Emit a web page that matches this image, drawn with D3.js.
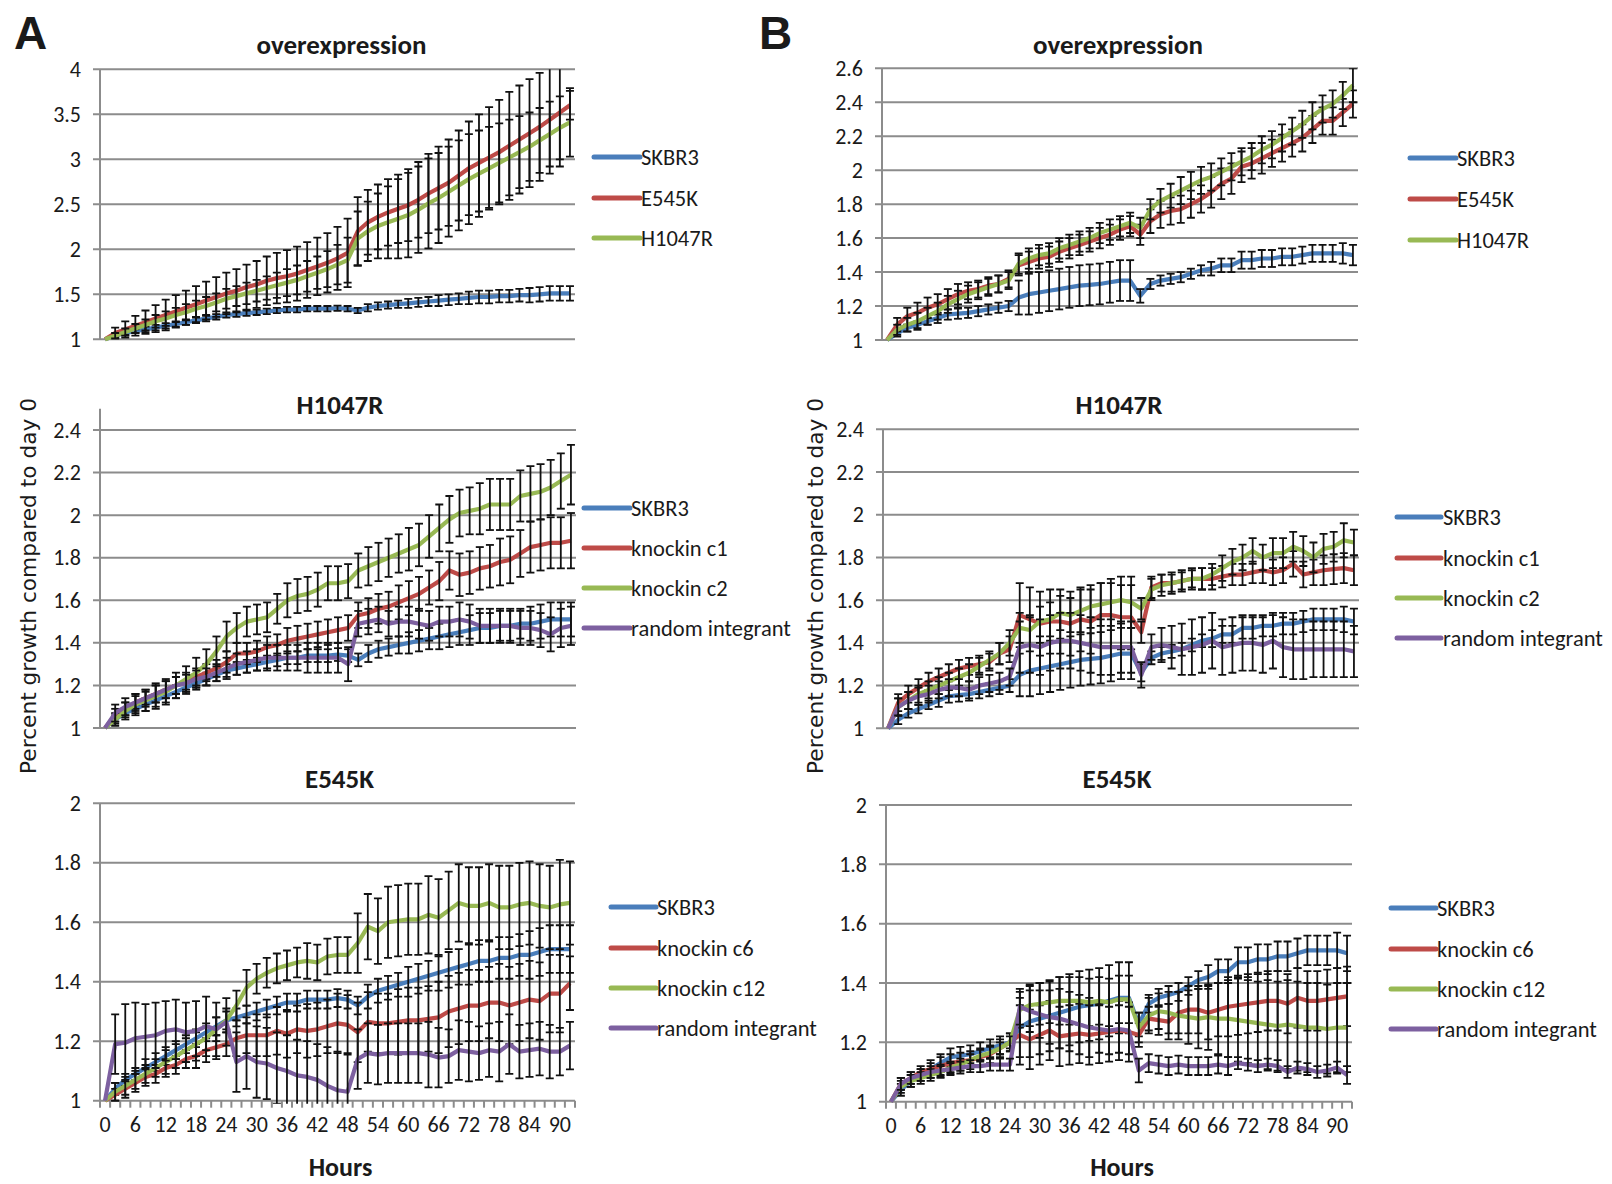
<!DOCTYPE html>
<html>
<head>
<meta charset="utf-8">
<script src="https://cdn.jsdelivr.net/npm/d3@7/dist/d3.min.js"></script>
<style>
  html, body { margin: 0; padding: 0; background: #fff; }
  svg text { font-family: Carlito, Lato, "Open Sans", sans-serif; fill: #1a1a1a; }
</style>
</head>
<body>
<svg id="fig" width="1612" height="1184"></svg>
<script>
// ---- time axis (hours after seeding) ----
const hours = [0,2,4,6,8,10,12,14,16,18,20,22,24,26,28,30,32,34,36,38,40,42,44,46,
               48,50,52,54,56,58,60,62,64,66,68,70,72,74,76,78,80,82,84,86,88,90,92];
const hourTickLabels = [0,6,12,18,24,30,36,42,48,54,60,66,72,78,84,90];

// ---- y tick values ----
const ticksOverA = [1,1.5,2,2.5,3,3.5,4];
const ticksOverB = [1,1.2,1.4,1.6,1.8,2,2.2,2.4,2.6];
const ticksH1047R = [1,1.2,1.4,1.6,1.8,2,2.2,2.4];
const ticksE545K = [1,1.2,1.4,1.6,1.8,2];

// ---- series names ----
const namesOver = ["SKBR3","E545K","H1047R"];
const namesH1047R = ["SKBR3","knockin c1","knockin c2","random integrant"];
const namesE545K = ["SKBR3","knockin c6","knockin c12","random integrant"];

// ---- parental SKBR3 control ----
const skbr3A = [1.00,1.04,1.07,1.09,1.11,1.13,1.15,1.17,1.19,1.21,1.23,1.25,1.27,1.28,1.29,1.30,1.31,1.32,1.33,1.33,1.34,1.34,1.34,1.345,
                1.34,1.32,1.35,1.37,1.38,1.39,1.40,1.41,1.42,1.43,1.44,1.45,1.46,1.47,1.47,1.48,1.48,1.49,1.49,1.50,1.51,1.51,1.51];
const skbr3AErr = [0,.02,.02,.02,.03,.03,.03,.03,.03,.03,.03,.03,.03,.03,.03,.03,.03,.03,.03,.03,.03,.03,.03,.03,
                   .03,.03,.04,.04,.04,.04,.05,.05,.05,.06,.06,.06,.07,.07,.07,.07,.07,.07,.08,.08,.08,.08,.08];
const skbr3B = [1.00,1.04,1.07,1.09,1.11,1.13,1.15,1.155,1.16,1.17,1.18,1.19,1.20,1.25,1.27,1.28,1.29,1.30,1.31,1.32,1.325,1.33,1.34,1.35,
                1.35,1.26,1.33,1.35,1.36,1.37,1.39,1.41,1.42,1.44,1.44,1.47,1.47,1.48,1.48,1.49,1.49,1.50,1.51,1.51,1.51,1.51,1.50];
const skbr3BErr = [0,.02,.02,.02,.02,.03,.03,.03,.03,.03,.03,.03,.03,.10,.12,.12,.12,.12,.12,.12,.12,.12,.12,.12,
                   .12,.04,.03,.03,.03,.03,.03,.03,.04,.04,.04,.05,.05,.05,.05,.05,.05,.05,.05,.05,.05,.06,.06];

// ---- A: overexpression ----
const overA_E545K = [1.00,1.07,1.11,1.15,1.19,1.23,1.27,1.31,1.35,1.39,1.43,1.47,1.51,1.54,1.58,1.61,1.65,1.68,1.70,1.73,1.77,1.81,1.85,1.90,
                     1.96,2.20,2.30,2.36,2.41,2.45,2.49,2.55,2.62,2.68,2.74,2.82,2.90,2.96,3.02,3.08,3.15,3.22,3.29,3.36,3.44,3.52,3.60];
const overA_E545KErr = [0,.06,.09,.11,.13,.15,.17,.18,.19,.20,.21,.22,.23,.24,.25,.26,.27,.28,.29,.30,.31,.32,.33,.35,
                        .38,.38,.36,.36,.37,.38,.40,.42,.44,.46,.48,.50,.52,.54,.56,.58,.60,.60,.60,.60,.60,.60,.16];
const overA_H1047R = [1.00,1.04,1.08,1.12,1.16,1.20,1.23,1.27,1.30,1.34,1.37,1.41,1.45,1.48,1.51,1.54,1.57,1.60,1.63,1.66,1.70,1.74,1.78,1.83,
                      1.88,2.12,2.20,2.26,2.30,2.34,2.38,2.44,2.51,2.57,2.64,2.71,2.78,2.84,2.90,2.96,3.02,3.08,3.14,3.21,3.28,3.35,3.41];
const overA_H1047RErr = [0,.03,.04,.05,.06,.07,.08,.08,.09,.09,.10,.10,.11,.11,.12,.12,.13,.14,.15,.16,.17,.18,.20,.22,
                         .25,.30,.33,.36,.40,.44,.47,.48,.50,.50,.50,.50,.50,.48,.46,.44,.42,.40,.38,.36,.36,.35,.38];

// ---- A: H1047R knock-in ----
const hA_c1 = [1.00,1.06,1.09,1.12,1.14,1.16,1.18,1.20,1.22,1.24,1.26,1.28,1.31,1.35,1.35,1.36,1.38,1.39,1.41,1.42,1.43,1.44,1.45,1.46,
               1.47,1.53,1.54,1.56,1.57,1.59,1.61,1.63,1.66,1.69,1.74,1.72,1.73,1.75,1.76,1.78,1.79,1.82,1.85,1.86,1.87,1.87,1.88];
const hA_c1Err = [0,.03,.03,.03,.03,.04,.04,.04,.04,.04,.04,.04,.05,.05,.05,.05,.05,.05,.06,.06,.06,.06,.06,.06,
                  .06,.06,.07,.07,.07,.08,.08,.08,.08,.09,.09,.10,.10,.10,.10,.11,.11,.11,.12,.12,.12,.12,.13];
const hA_c2 = [1.00,1.04,1.08,1.11,1.13,1.15,1.17,1.20,1.23,1.26,1.30,1.36,1.43,1.47,1.50,1.51,1.52,1.56,1.60,1.62,1.63,1.65,1.68,1.68,
               1.69,1.74,1.76,1.78,1.80,1.82,1.84,1.86,1.90,1.94,1.98,2.01,2.02,2.03,2.05,2.05,2.05,2.09,2.10,2.11,2.13,2.16,2.19];
const hA_c2Err = [0,.03,.04,.05,.05,.06,.06,.06,.06,.07,.07,.07,.07,.07,.07,.07,.07,.07,.08,.08,.08,.08,.08,.08,
                  .08,.08,.09,.09,.09,.09,.10,.10,.10,.11,.11,.11,.11,.12,.12,.12,.12,.12,.13,.13,.13,.13,.14];
const hA_rand = [1.00,1.07,1.10,1.12,1.14,1.16,1.18,1.20,1.21,1.23,1.24,1.26,1.28,1.30,1.31,1.32,1.33,1.33,1.33,1.33,1.33,1.33,1.33,1.33,
                 1.30,1.49,1.50,1.51,1.49,1.50,1.50,1.49,1.48,1.50,1.50,1.51,1.50,1.48,1.48,1.48,1.48,1.47,1.47,1.46,1.44,1.47,1.48];
const hA_randErr = [0,.04,.04,.04,.04,.04,.04,.04,.04,.04,.04,.04,.05,.05,.05,.05,.06,.06,.06,.06,.07,.07,.07,.07,
                    .08,.06,.06,.06,.06,.07,.07,.07,.07,.07,.07,.08,.08,.08,.08,.08,.08,.08,.08,.08,.08,.09,.09];

// ---- A: E545K knock-in ----
const eA_c6 = [1.00,1.02,1.04,1.06,1.08,1.09,1.11,1.12,1.14,1.15,1.17,1.18,1.19,1.21,1.22,1.22,1.22,1.235,1.225,1.24,1.235,1.24,1.25,1.26,
               1.255,1.23,1.265,1.26,1.26,1.265,1.27,1.27,1.275,1.28,1.30,1.31,1.32,1.32,1.33,1.33,1.32,1.33,1.34,1.335,1.36,1.36,1.395];
const eA_c6Err = [0,.02,.03,.03,.03,.03,.03,.03,.03,.04,.04,.04,.04,.06,.06,.07,.07,.08,.08,.08,.09,.09,.09,.10,
                  .10,.10,.10,.10,.10,.11,.11,.11,.11,.12,.12,.12,.12,.12,.12,.13,.13,.13,.13,.13,.13,.13,.09];
const eA_c12 = [1.00,1.03,1.05,1.07,1.09,1.11,1.13,1.15,1.17,1.19,1.21,1.24,1.27,1.32,1.38,1.41,1.43,1.445,1.455,1.465,1.47,1.465,1.485,1.49,
                1.49,1.53,1.585,1.57,1.60,1.605,1.61,1.61,1.625,1.615,1.64,1.665,1.655,1.655,1.665,1.65,1.65,1.66,1.665,1.655,1.65,1.66,1.665];
const eA_c12Err = [0,.03,.03,.03,.03,.03,.04,.04,.04,.04,.04,.04,.04,.05,.06,.05,.05,.05,.05,.05,.06,.06,.06,.06,
                   .06,.10,.11,.11,.12,.12,.12,.12,.13,.13,.13,.13,.13,.13,.13,.14,.14,.14,.14,.14,.14,.15,.14];
const eA_rand = [1.00,1.19,1.195,1.21,1.215,1.22,1.235,1.24,1.23,1.235,1.25,1.24,1.265,1.13,1.15,1.13,1.125,1.11,1.10,1.085,1.08,1.07,1.05,1.035,
                 1.03,1.14,1.16,1.155,1.16,1.16,1.16,1.16,1.155,1.145,1.15,1.17,1.165,1.16,1.17,1.165,1.19,1.165,1.17,1.175,1.165,1.165,1.185];
const eA_randErr = [0,.10,.13,.12,.11,.11,.10,.10,.10,.10,.10,.09,.08,.10,.11,.12,.12,.12,.12,.12,.12,.12,.13,.13,
                    .13,.10,.10,.10,.10,.10,.10,.10,.11,.10,.09,.10,.10,.09,.09,.10,.10,.09,.09,.09,.09,.08,.08];

// ---- B: overexpression ----
const overB_E545K = [1.00,1.09,1.14,1.16,1.19,1.21,1.24,1.27,1.29,1.30,1.32,1.33,1.36,1.44,1.46,1.48,1.49,1.52,1.54,1.56,1.58,1.60,1.62,1.65,
                     1.67,1.62,1.70,1.74,1.76,1.77,1.80,1.83,1.87,1.92,1.95,2.02,2.04,2.07,2.10,2.13,2.16,2.19,2.24,2.29,2.29,2.34,2.39];
const overB_E545KErr = [0,.04,.05,.06,.06,.06,.06,.06,.05,.05,.05,.05,.05,.06,.06,.06,.06,.06,.06,.06,.06,.06,.06,.06,
                        .06,.06,.07,.08,.08,.08,.08,.08,.09,.09,.09,.09,.09,.09,.08,.08,.08,.08,.08,.08,.08,.08,.08];
const overB_H1047R = [1.00,1.06,1.09,1.11,1.14,1.17,1.21,1.24,1.27,1.29,1.31,1.33,1.35,1.45,1.48,1.50,1.51,1.54,1.56,1.58,1.60,1.63,1.65,1.67,
                      1.69,1.66,1.77,1.82,1.85,1.88,1.91,1.94,1.96,1.99,2.02,2.05,2.08,2.12,2.15,2.19,2.23,2.27,2.32,2.36,2.39,2.44,2.50];
const overB_H1047RErr = [0,.03,.04,.05,.05,.05,.05,.05,.05,.05,.05,.05,.05,.06,.06,.06,.06,.06,.06,.06,.06,.06,.06,.06,
                         .06,.06,.06,.07,.07,.08,.08,.08,.08,.08,.08,.08,.08,.08,.08,.08,.08,.08,.08,.08,.08,.08,.10];

// ---- B: H1047R knock-in ----
const hB_c1 = [1.00,1.12,1.16,1.19,1.22,1.24,1.26,1.28,1.29,1.30,1.31,1.35,1.37,1.53,1.51,1.49,1.50,1.50,1.49,1.51,1.50,1.53,1.53,1.52,
               1.52,1.45,1.66,1.68,1.68,1.69,1.70,1.70,1.70,1.71,1.72,1.72,1.73,1.74,1.73,1.74,1.77,1.72,1.73,1.74,1.745,1.75,1.74];
const hB_c1Err = [0,.04,.04,.04,.04,.04,.04,.04,.04,.04,.04,.05,.06,.15,.15,.15,.15,.15,.15,.15,.15,.15,.15,.15,
                  .15,.05,.05,.04,.04,.04,.04,.05,.05,.05,.05,.05,.05,.06,.06,.06,.06,.06,.06,.07,.07,.07,.07];
const hB_c2 = [1.00,1.10,1.13,1.16,1.18,1.20,1.22,1.24,1.26,1.29,1.32,1.35,1.40,1.47,1.46,1.50,1.51,1.54,1.53,1.55,1.57,1.58,1.59,1.60,
               1.59,1.56,1.65,1.67,1.68,1.69,1.70,1.70,1.72,1.75,1.78,1.80,1.83,1.80,1.82,1.82,1.85,1.83,1.80,1.84,1.85,1.88,1.87];
const hB_c2Err = [0,.04,.04,.04,.04,.04,.04,.04,.04,.04,.04,.05,.06,.07,.07,.07,.08,.08,.08,.10,.10,.10,.11,.11,
                  .12,.05,.05,.05,.05,.05,.05,.05,.05,.06,.06,.06,.06,.06,.07,.07,.07,.07,.07,.07,.07,.08,.06];
const hB_rand = [1.00,1.10,1.13,1.15,1.16,1.18,1.19,1.19,1.18,1.20,1.21,1.22,1.24,1.38,1.39,1.38,1.40,1.41,1.41,1.40,1.39,1.38,1.38,1.38,
                 1.38,1.25,1.38,1.39,1.38,1.37,1.38,1.39,1.41,1.38,1.39,1.40,1.40,1.39,1.41,1.38,1.37,1.37,1.37,1.37,1.37,1.37,1.36];
const hB_randErr = [0,.04,.04,.04,.04,.04,.04,.04,.04,.04,.04,.04,.04,.12,.13,.13,.13,.13,.13,.13,.13,.13,.13,.12,
                    .12,.06,.06,.08,.10,.12,.13,.13,.13,.13,.13,.13,.13,.13,.13,.14,.14,.14,.13,.13,.13,.13,.12];

// ---- B: E545K knock-in ----
const eB_c6 = [1.00,1.06,1.08,1.10,1.11,1.12,1.13,1.135,1.14,1.15,1.16,1.18,1.20,1.225,1.21,1.225,1.24,1.22,1.225,1.23,1.225,1.23,1.235,1.24,
               1.235,1.225,1.28,1.275,1.27,1.30,1.31,1.31,1.30,1.31,1.32,1.325,1.33,1.335,1.34,1.34,1.33,1.35,1.34,1.34,1.345,1.35,1.355];
const eB_c6Err = [0,.02,.02,.02,.03,.03,.03,.03,.03,.03,.03,.03,.03,.10,.10,.10,.10,.10,.10,.10,.10,.10,.10,.10,
                  .10,.04,.04,.05,.06,.07,.08,.08,.09,.09,.10,.10,.10,.10,.10,.10,.10,.10,.10,.10,.10,.10,.10];
const eB_c12 = [1.00,1.05,1.07,1.08,1.09,1.10,1.115,1.125,1.14,1.155,1.165,1.18,1.20,1.31,1.325,1.33,1.335,1.34,1.34,1.34,1.335,1.34,1.335,1.345,
                1.345,1.25,1.29,1.305,1.30,1.29,1.285,1.28,1.285,1.28,1.28,1.275,1.27,1.265,1.26,1.255,1.26,1.255,1.25,1.25,1.245,1.25,1.25];
const eB_c12Err = [0,.02,.02,.02,.02,.02,.02,.02,.02,.02,.02,.02,.02,.06,.07,.07,.07,.08,.08,.08,.08,.08,.08,.08,
                   .08,.05,.06,.06,.07,.08,.09,.10,.11,.12,.13,.14,.14,.14,.15,.15,.15,.15,.15,.15,.15,.15,.15];
const eB_rand = [1.00,1.06,1.08,1.09,1.10,1.105,1.11,1.115,1.12,1.12,1.125,1.125,1.125,1.32,1.305,1.295,1.285,1.28,1.27,1.26,1.25,1.245,1.24,1.245,
                 1.24,1.105,1.13,1.125,1.12,1.125,1.12,1.12,1.12,1.125,1.12,1.13,1.125,1.12,1.125,1.12,1.10,1.115,1.11,1.10,1.105,1.115,1.09];
const eB_randErr = [0,.02,.02,.02,.02,.02,.02,.02,.02,.02,.02,.02,.02,.06,.07,.08,.09,.10,.10,.10,.10,.08,.08,.08,
                    .08,.04,.03,.03,.03,.03,.03,.03,.03,.03,.03,.02,.02,.02,.02,.02,.02,.02,.02,.02,.02,.02,.03];

// ---- styling ----
const seriesColors = ["#4a7ebb", "#be4b48", "#98b954", "#7d60a0"];
const gridColor = "#8c8c8c";
const labelFont = "Carlito, Lato, 'Open Sans', sans-serif";

// ---- panel layout ----
const panels = [
  { title: "overexpression", left: 100, right: 575, top: 69.3, bottom: 339.3, domain: [1, 4], ticks: ticksOverA,
    names: namesOver, values: [skbr3A, overA_E545K, overA_H1047R], errs: [skbr3AErr, overA_E545KErr, overA_H1047RErr],
    legend: { x1: 594, x2: 640, tx: 641, ys: [157, 198, 238] }, titleY: 54, titleDx: 4, xAxis: false },
  { title: "H1047R", left: 100, right: 576, top: 430, bottom: 728, domain: [1, 2.4], axisTop: 2.5, ticks: ticksH1047R,
    names: namesH1047R, values: [skbr3A, hA_c1, hA_c2, hA_rand], errs: [skbr3AErr, hA_c1Err, hA_c2Err, hA_randErr],
    legend: { x1: 584, x2: 630, tx: 631, ys: [508, 548, 588, 628] }, titleY: 414, titleDx: 2, xAxis: false },
  { title: "E545K", left: 100, right: 575, top: 803.3, bottom: 1100.7, domain: [1, 2], ticks: ticksE545K,
    names: namesE545K, values: [skbr3A, eA_c6, eA_c12, eA_rand], errs: [skbr3AErr, eA_c6Err, eA_c12Err, eA_randErr],
    legend: { x1: 611, x2: 656, tx: 657, ys: [907, 948, 988, 1028] }, titleY: 788, titleDx: 2, xAxis: true },
  { title: "overexpression", left: 882, right: 1358, top: 68.3, bottom: 340, domain: [1, 2.6], ticks: ticksOverB,
    names: namesOver, values: [skbr3B, overB_E545K, overB_H1047R], errs: [skbr3BErr, overB_E545KErr, overB_H1047RErr],
    legend: { x1: 1410, x2: 1456, tx: 1457, ys: [158, 199, 240] }, titleY: 54, titleDx: -2, xAxis: false },
  { title: "H1047R", left: 883, right: 1359, top: 429.3, bottom: 728.3, domain: [1, 2.4], ticks: ticksH1047R,
    names: namesH1047R, values: [skbr3B, hB_c1, hB_c2, hB_rand], errs: [skbr3BErr, hB_c1Err, hB_c2Err, hB_randErr],
    legend: { x1: 1397, x2: 1441, tx: 1443, ys: [517, 558, 598, 638] }, titleY: 414, titleDx: -2, xAxis: false },
  { title: "E545K", left: 886, right: 1352, top: 805, bottom: 1101.7, domain: [1, 2], ticks: ticksE545K,
    names: namesE545K, values: [skbr3B, eB_c6, eB_c12, eB_rand], errs: [skbr3BErr, eB_c6Err, eB_c12Err, eB_randErr],
    legend: { x1: 1391, x2: 1436, tx: 1437, ys: [908, 949, 989, 1029] }, titleY: 788, titleDx: -2, xAxis: true }
];

const svg = d3.select("#fig");

panels.forEach((p, pi) => {
  const g = svg.append("g");
  const yMax = p.axisTop || p.domain[1];
  const x = d3.scaleBand().domain(hours).range([p.left, p.right]).paddingInner(0).paddingOuter(0);
  const y = d3.scaleLinear()
    .domain([p.domain[0], yMax])
    .range([p.bottom, p.bottom - (p.bottom - p.top) * (yMax - p.domain[0]) / (p.domain[1] - p.domain[0])]);
  const cx = h => x(h) + x.bandwidth() / 2;

  // value labels
  const yAxis = d3.axisLeft(y).tickValues(p.ticks).tickSize(0).tickPadding(19)
    .tickFormat(d => String(d));
  const ya = g.append("g").attr("transform", `translate(${p.left},0)`).call(yAxis);
  ya.select(".domain").remove();
  ya.selectAll("text").attr("font-size", 22).attr("fill", "#1a1a1a").style("font-family", labelFont);

  // horizontal gridlines with outside tick marks
  g.append("g").selectAll("line").data(p.ticks).join("line")
    .attr("x1", p.left - 7).attr("x2", p.right)
    .attr("y1", d => y(d)).attr("y2", d => y(d))
    .attr("stroke", gridColor).attr("stroke-width", 2);

  // vertical value axis
  g.append("line")
    .attr("x1", p.left).attr("x2", p.left)
    .attr("y1", y(p.domain[0])).attr("y2", y(yMax))
    .attr("stroke", gridColor).attr("stroke-width", 2);

  // category axis with hour labels on the bottom row
  if (p.xAxis) {
    const xAxis = d3.axisBottom(x).tickValues(hourTickLabels).tickSize(0).tickPadding(16);
    const xa = g.append("g").attr("transform", `translate(0,${p.bottom})`).call(xAxis);
    xa.select(".domain").remove();
    xa.selectAll("text").attr("font-size", 22).attr("fill", "#1a1a1a").style("font-family", labelFont);
    const bounds = hours.map(h => x(h)).concat([p.right]);
    g.append("g").selectAll("line").data(bounds).join("line")
      .attr("x1", d => d).attr("x2", d => d)
      .attr("y1", p.bottom).attr("y2", p.bottom + 7)
      .attr("stroke", gridColor).attr("stroke-width", 2);
    g.append("text").attr("x", (p.left + p.right) / 2 + 3).attr("y", 1176)
      .attr("text-anchor", "middle").attr("font-size", 26).attr("font-weight", "bold")
      .text("Hours");
  }

  // clip region for the plotted data
  const clipId = "clip" + pi;
  svg.append("clipPath").attr("id", clipId).append("rect")
    .attr("x", p.left - 2).attr("y", y(yMax))
    .attr("width", p.right - p.left + 4).attr("height", y(p.domain[0]) - y(yMax) + 3);
  const plot = g.append("g").attr("clip-path", `url(#${clipId})`);

  const line = d3.line().x((d, i) => cx(hours[i])).y(d => y(d));

  p.values.forEach((vals, si) => {
    plot.append("path").datum(vals)
      .attr("d", line).attr("fill", "none")
      .attr("stroke", seriesColors[si]).attr("stroke-width", 4.2)
      .attr("stroke-linejoin", "round");

    const errs = p.errs[si];
    const eb = plot.append("g").attr("stroke", "#111").attr("stroke-width", 1.8);
    vals.forEach((v, i) => {
      const e = errs[i];
      if (!e) return;
      const xc = cx(hours[i]);
      eb.append("line").attr("x1", xc).attr("x2", xc).attr("y1", y(v - e)).attr("y2", y(v + e));
      eb.append("line").attr("x1", xc - 4).attr("x2", xc + 4).attr("y1", y(v + e)).attr("y2", y(v + e));
      eb.append("line").attr("x1", xc - 4).attr("x2", xc + 4).attr("y1", y(v - e)).attr("y2", y(v - e));
    });
  });

  // panel title
  g.append("text").attr("x", (p.left + p.right) / 2 + p.titleDx).attr("y", p.titleY)
    .attr("text-anchor", "middle").attr("font-size", 27).attr("font-weight", "bold")
    .text(p.title);

  // legend
  p.names.forEach((name, si) => {
    const ly = p.legend.ys[si];
    g.append("line").attr("x1", p.legend.x1).attr("x2", p.legend.x2)
      .attr("y1", ly).attr("y2", ly)
      .attr("stroke", seriesColors[si]).attr("stroke-width", 5).attr("stroke-linecap", "round");
    g.append("text").attr("x", p.legend.tx).attr("y", ly + 8)
      .attr("font-size", 22.5).text(name);
  });
});

// shared y-axis titles
[{ x: 28, y: 586 }, { x: 815, y: 586 }].forEach(t => {
  svg.append("text")
    .attr("transform", `translate(${t.x},${t.y}) rotate(-90)`)
    .attr("text-anchor", "middle").attr("dominant-baseline", "central")
    .style("font-family", "'DejaVu Sans', Verdana, sans-serif")
    .attr("font-size", 21.7).attr("fill", "#1a1a1a")
    .text("Percent growth compared to day 0");
});

// panel letters
[{ x: 14, t: "A" }, { x: 759, t: "B" }].forEach(l => {
  svg.append("text").attr("x", l.x).attr("y", 49)
    .style("font-family", "'Liberation Sans', Arial, sans-serif")
    .attr("font-size", 46).attr("font-weight", "bold").attr("fill", "#000")
    .text(l.t);
});
</script>
</body>
</html>
